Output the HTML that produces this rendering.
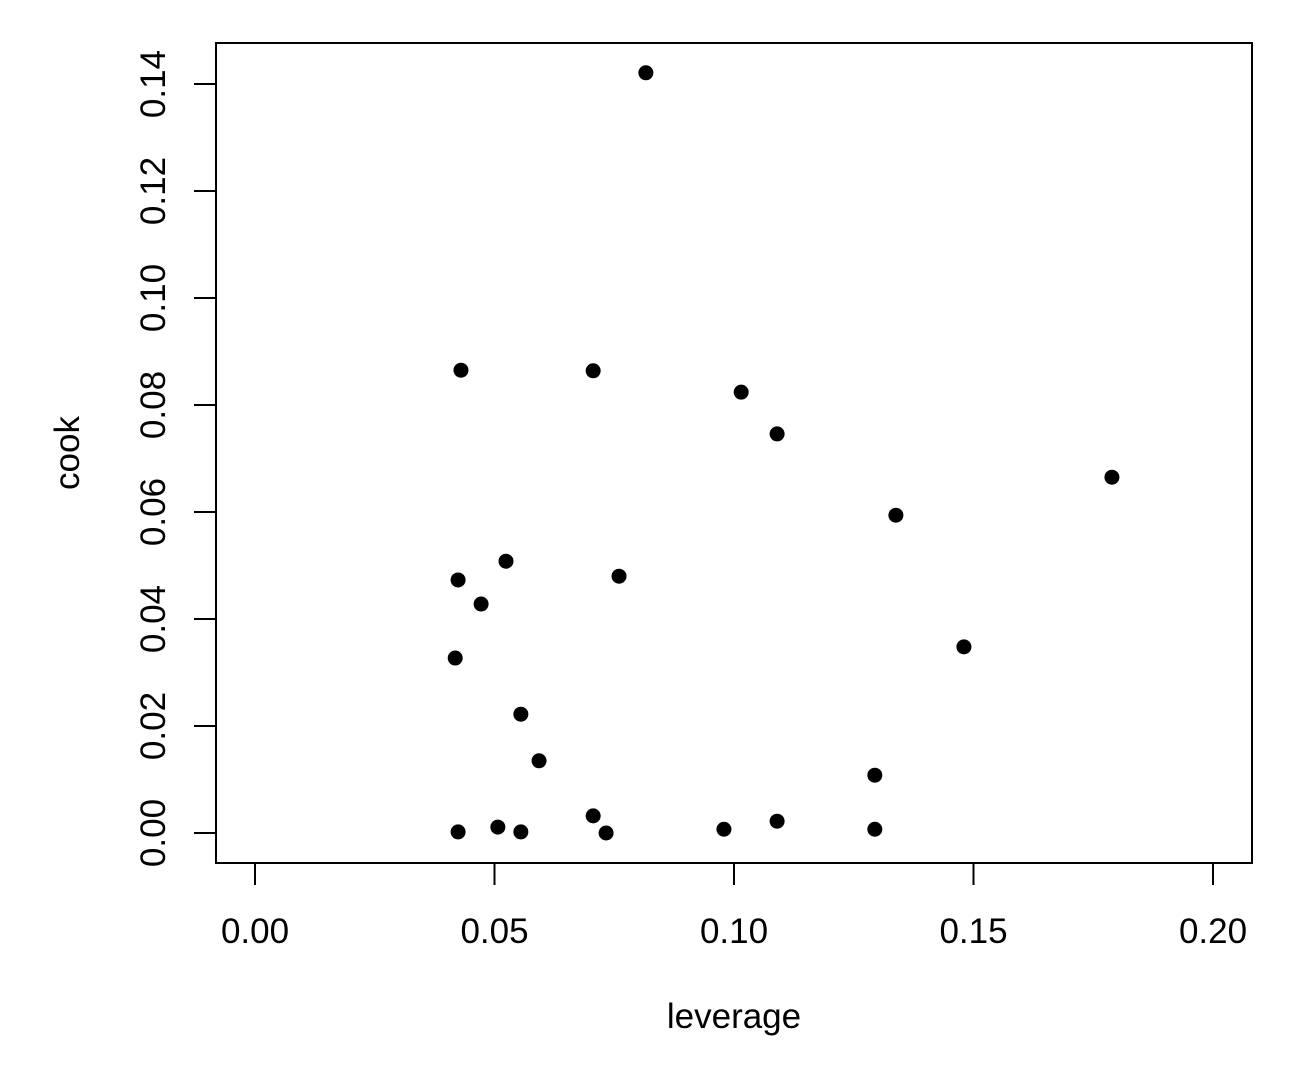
<!DOCTYPE html>
<html><head><meta charset="utf-8"><style>
html,body{margin:0;padding:0;background:#fff;}
svg{display:block;font-family:"Liberation Sans",sans-serif;}
</style></head><body>
<svg id="chart" width="1296" height="1080" viewBox="0 0 1296 1080">
<rect x="216" y="43" width="1036" height="820" fill="none" stroke="#000" stroke-width="2"/>
<g id="xaxis"></g>
<g id="yaxis"></g>
<g id="points"></g>
<text x="734" y="1028" font-size="35" text-anchor="middle">leverage</text>
<text transform="translate(79,453) rotate(-90)" font-size="35" text-anchor="middle">cook</text>
</svg>
<script>
const leverage = [0.0816,0.0430,0.0706,0.1015,0.1090,0.1789,0.1338,0.0524,0.0424,0.0760,0.0472,0.0418,0.1480,0.0555,0.0593,0.1294,0.0706,0.1090,0.0424,0.0507,0.0555,0.0733,0.0979,0.1294];
const cook = [0.1421,0.0865,0.0864,0.0824,0.0746,0.0665,0.0594,0.0508,0.0473,0.0480,0.0428,0.0327,0.0348,0.0222,0.0135,0.0108,0.0032,0.0022,0.0002,0.0011,0.0002,0.0000,0.0007,0.0007];
const xTicks = [0,0.05,0.10,0.15,0.20];
const xTickLabels = ["0.00","0.05","0.10","0.15","0.20"];
const yTicks = [0,0.02,0.04,0.06,0.08,0.10,0.12,0.14];
const yTickLabels = ["0.00","0.02","0.04","0.06","0.08","0.10","0.12","0.14"];

const NS = "http://www.w3.org/2000/svg";
function xs(v){ return 255 + v*4790; }
function ys(v){ return 833 - v*5350; }
function mk(tag, attrs, parent){
  const e = document.createElementNS(NS, tag);
  for (const k in attrs) e.setAttribute(k, attrs[k]);
  parent.appendChild(e);
  return e;
}
const xg = document.getElementById('xaxis');
mk('line',{x1:xs(xTicks[0]),x2:xs(xTicks[xTicks.length-1]),y1:863,y2:863,stroke:'#000','stroke-width':2},xg);
xTicks.forEach((t,i)=>{
  const l = mk('line',{x1:xs(t),x2:xs(t),y1:863,y2:885,stroke:'#000','stroke-width':2},xg);
  
  
  const tx = mk('text',{x:xs(t),y:943,'font-size':35,'text-anchor':'middle'},xg);
  tx.textContent = xTickLabels[i];
  
  
});
const yg = document.getElementById('yaxis');
mk('line',{x1:216,x2:216,y1:ys(yTicks[0]),y2:ys(yTicks[yTicks.length-1]),stroke:'#000','stroke-width':2},yg);
yTicks.forEach((t,i)=>{
  const l = mk('line',{x1:194,x2:216,y1:ys(t),y2:ys(t),stroke:'#000','stroke-width':2},yg);
  
  
  const tx = mk('text',{transform:'translate(165,'+ys(t)+') rotate(-90)','font-size':35,'text-anchor':'middle'},yg);
  tx.textContent = yTickLabels[i];
  
  
});
const pg = document.getElementById('points');
leverage.forEach((v,i)=>{
  const c = mk('circle',{cx:xs(v),cy:ys(cook[i]),r:7.5,fill:'#000'},pg);
  
  
});
</script>
</body></html>
